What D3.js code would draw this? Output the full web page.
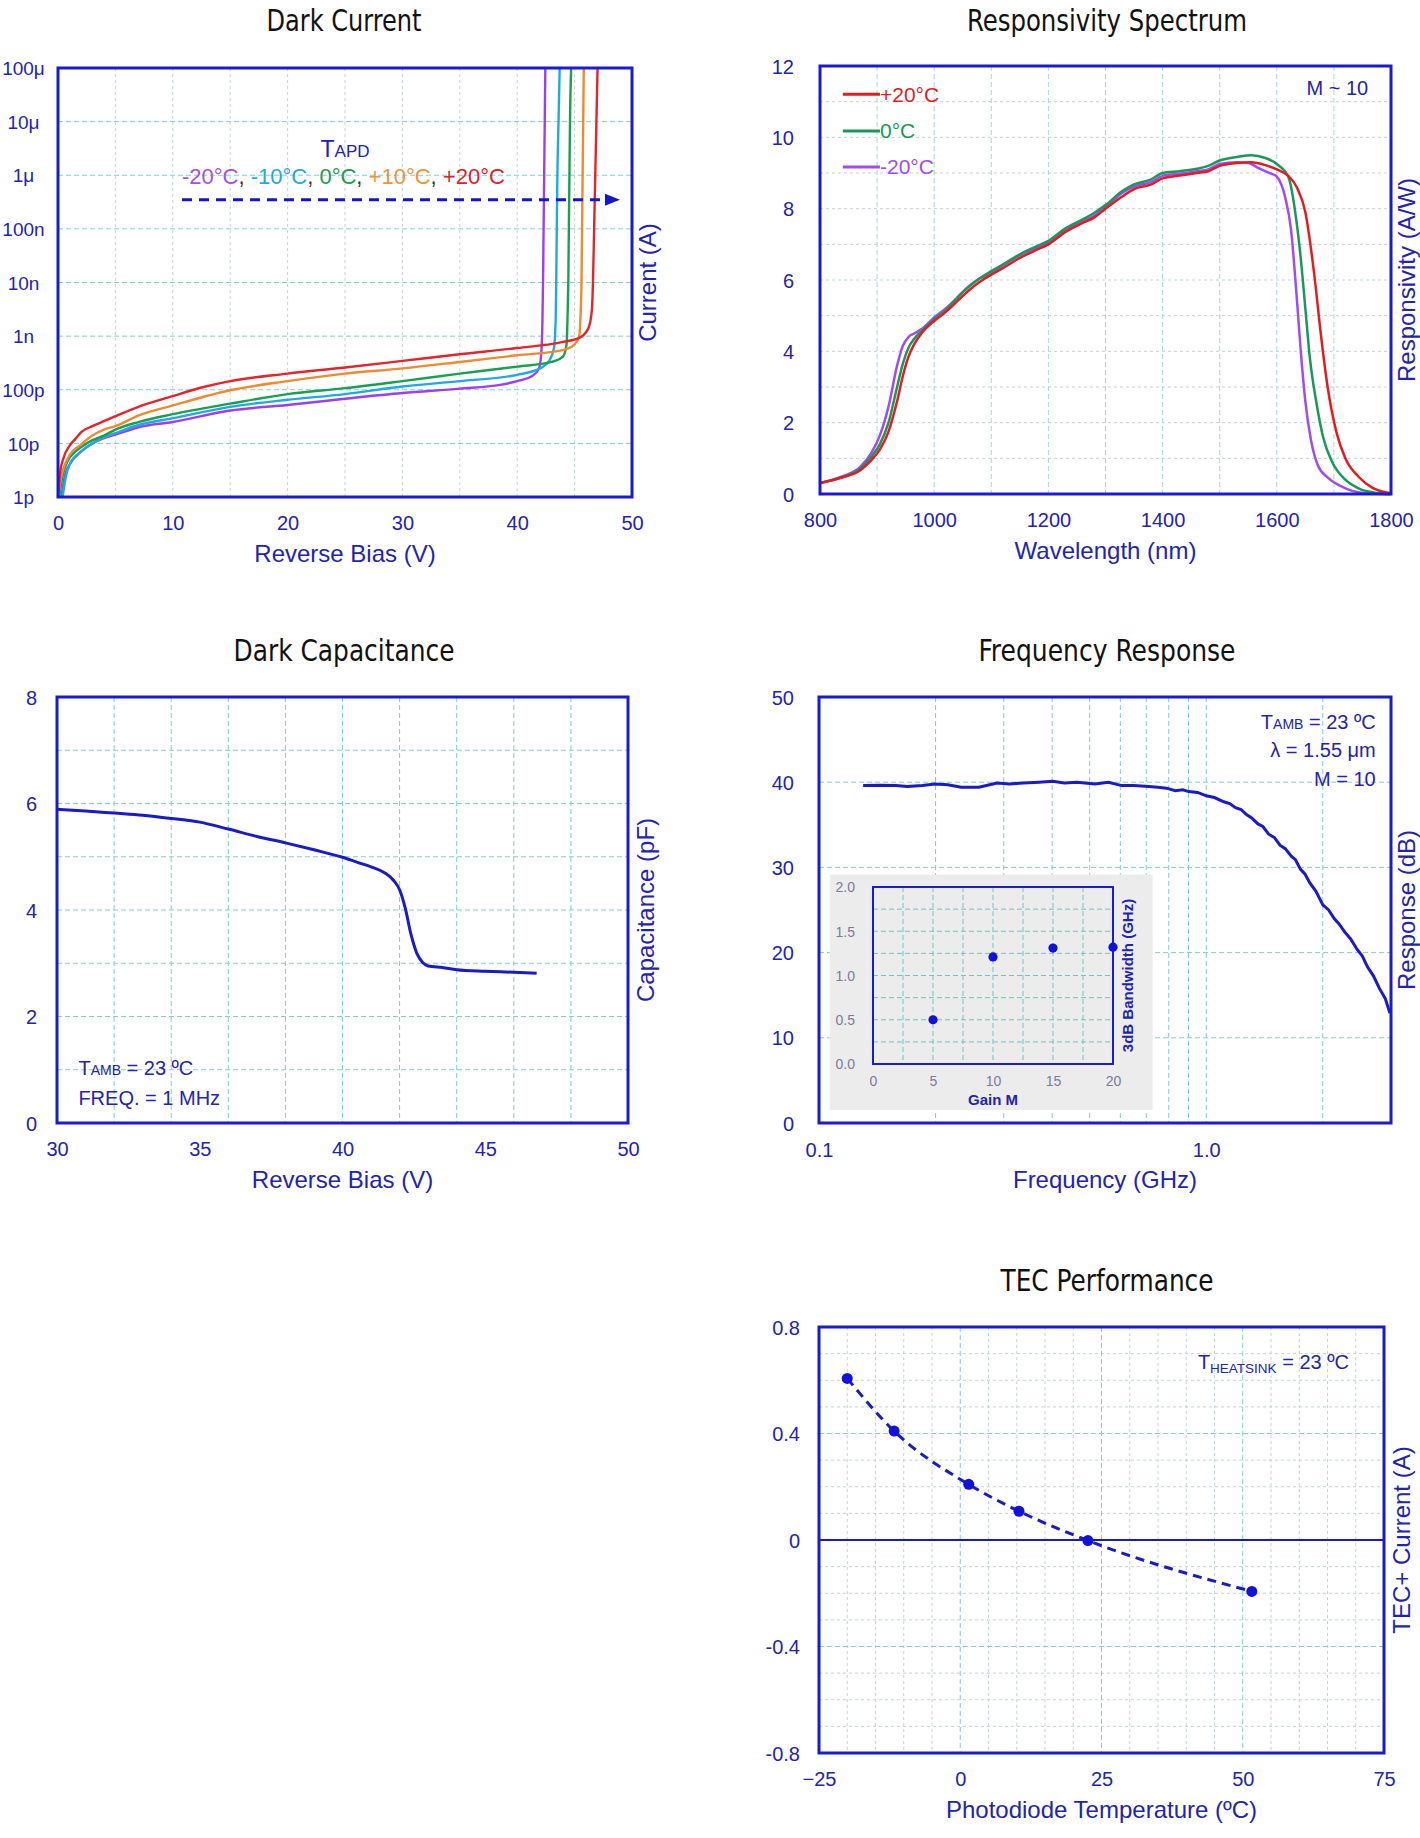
<!DOCTYPE html>
<html><head><meta charset="utf-8">
<script src="https://cdnjs.cloudflare.com/ajax/libs/d3/7.8.5/d3.min.js"></script>
<style>
body{margin:0;background:#fff;}
svg text{font-family:"Liberation Sans",Arial,Helvetica,sans-serif;}
</style></head><body>
<script>
// ---------------- DATA ----------------
// Dark Current (V, A)
const dcTempLabels = ["-20°C","-10°C","0°C","+10°C","+20°C"];
const dcV_m20 = [0.3,0.6,1,2,3,4,5,7,10,15,20,25,30,35,38.5,40,41.3,41.9,42.1,42.2,42.25,42.3,42.35,42.4,42.45];
const dcI_m20 = [1e-12,2.5e-12,4e-12,7e-12,1.0e-11,1.25e-11,1.45e-11,2.0e-11,2.5e-11,4.1e-11,5.2e-11,6.8e-11,8.7e-11,1.05e-10,1.23e-10,1.45e-10,1.8e-10,2.5e-10,5e-10,2e-9,1e-8,1e-7,1e-6,1e-5,1e-4];
const dcV_m10 = [0.4,0.7,1,2,3,4,5,7,10,15,20,25,30,35,40,42,42.8,43.2,43.35,43.4,43.45,43.5,43.6,43.7];
const dcI_m10 = [1e-12,2.5e-12,4e-12,7e-12,1.0e-11,1.3e-11,1.55e-11,2.2e-11,2.95e-11,4.8e-11,6.5e-11,8.3e-11,1.15e-10,1.45e-10,1.9e-10,2.5e-10,3.5e-10,6e-10,2e-9,1e-8,1e-7,1e-6,1e-5,1e-4];
const dcV_0 = [0.1,0.4,0.8,1.5,2,3,4,5,7,10,15,20,25,30,35,40,43,44,44.3,44.4,44.45,44.5,44.55,44.6,44.7];
const dcI_0 = [1e-12,2.5e-12,4.5e-12,7e-12,8.5e-12,1.15e-11,1.4e-11,1.8e-11,2.5e-11,3.5e-11,5.5e-11,8.3e-11,1.07e-10,1.45e-10,2.0e-10,2.7e-10,3.3e-10,4.2e-10,7e-10,3e-9,1e-8,1e-7,1e-6,1e-5,1e-4];
const dcV_p10 = [0,0.3,0.6,1,2,3,4,5,7,10,15,20,25,30,35,40,44,45,45.4,45.5,45.6,45.65,45.7,45.75,45.8];
const dcI_p10 = [1e-12,2.5e-12,4e-12,6e-12,9.5e-12,1.4e-11,1.8e-11,2.1e-11,3.3e-11,5.1e-11,9.8e-11,1.45e-10,2.0e-10,2.5e-10,3.3e-10,4.4e-10,5.5e-10,7e-10,1.0e-9,2e-9,1e-8,1e-7,1e-6,1e-5,1e-4];
const dcV_p20 = [0,0.2,0.5,1,1.5,2,3,4,5,7,10,12.5,15,20,25,30,35,40,44,45.5,46.2,46.5,46.6,46.7,46.8,46.9,47.0];
const dcI_p20 = [1e-12,3e-12,5.5e-12,9e-12,1.2e-11,1.6e-11,2.1e-11,2.6e-11,3.2e-11,4.8e-11,7.6e-11,1.1e-10,1.45e-10,2.0e-10,2.6e-10,3.45e-10,4.6e-10,6.0e-10,7.8e-10,9.5e-10,1.4e-9,3e-9,1e-8,1e-7,1e-6,1e-5,1e-4];
const dcYTickValues = [1e-12,1e-11,1e-10,1e-9,1e-8,1e-7,1e-6,1e-5,1e-4];
const dcYTickLabels = ["1p","10p","100p","1n","10n","100n","1μ","10μ","100μ"];
const dcXTicks = [0,10,20,30,40,50];

// Responsivity (nm, A/W)
const respLegend = ["+20°C","0°C","-20°C"];
const respWl_p20 = [800,840,870,890,905,920,935,945,955,965,980,1000,1020,1040,1060,1080,1100,1120,1150,1180,1200,1230,1260,1280,1300,1330,1350,1380,1400,1430,1460,1480,1500,1530,1555,1580,1600,1620,1635,1650,1666,1677,1689,1705,1720,1744,1767,1790,1800];
const respVal_p20 = [0.31,0.47,0.66,0.95,1.25,1.75,2.6,3.3,3.85,4.2,4.55,4.85,5.1,5.4,5.7,5.95,6.15,6.33,6.62,6.85,7.0,7.35,7.6,7.75,8.0,8.35,8.55,8.68,8.85,8.93,9.0,9.05,9.2,9.28,9.3,9.22,9.1,8.92,8.6,7.9,6.1,4.5,3.0,1.7,1.0,0.47,0.18,0.05,0.02];
const respWl_0 = [800,840,870,890,905,920,935,945,955,965,980,1000,1020,1040,1060,1080,1100,1120,1150,1180,1200,1230,1260,1280,1300,1330,1350,1380,1400,1430,1460,1480,1500,1530,1555,1580,1600,1620,1634,1642,1650,1658,1670,1681,1697,1720,1744,1775,1800];
const respVal_0 = [0.31,0.48,0.7,1.05,1.4,2.0,3.0,3.65,4.1,4.35,4.6,4.9,5.15,5.5,5.8,6.05,6.25,6.43,6.72,6.95,7.1,7.45,7.7,7.88,8.1,8.5,8.68,8.82,9.0,9.05,9.12,9.2,9.35,9.45,9.5,9.42,9.25,8.9,7.7,6.6,5.2,3.8,2.5,1.6,0.9,0.4,0.15,0.03,0.0];
const respWl_m20 = [800,840,870,890,905,920,935,945,955,965,980,1000,1020,1040,1060,1080,1100,1120,1150,1180,1200,1230,1260,1280,1300,1330,1350,1380,1400,1430,1460,1480,1500,1530,1550,1570,1590,1600,1615,1625,1635,1642,1650,1660,1672,1690,1720,1745,1770,1800];
const respVal_m20 = [0.31,0.5,0.75,1.15,1.65,2.45,3.6,4.15,4.4,4.5,4.65,4.95,5.2,5.5,5.82,6.05,6.2,6.4,6.7,6.9,7.05,7.4,7.65,7.8,8.05,8.45,8.62,8.75,8.92,8.98,9.05,9.1,9.25,9.3,9.28,9.12,8.98,8.9,8.3,7.4,5.5,4.0,2.6,1.5,0.8,0.45,0.16,0.04,0.005,0.0];
const respXTicks = [800,1000,1200,1400,1600,1800];
const respYTicks = [0,2,4,6,8,10,12];

// Dark Capacitance (V, pF)
const capV = [30,31,32,33,34,35,36,37,38,39,40,40.5,41,41.5,41.8,42.0,42.2,42.4,42.6,42.8,43.0,43.5,44,45,46,46.8];
const capC = [5.89,5.86,5.82,5.78,5.72,5.65,5.52,5.38,5.26,5.13,4.99,4.9,4.81,4.69,4.55,4.38,4.03,3.54,3.19,3.02,2.95,2.92,2.88,2.85,2.83,2.81];
const capXTicks = [30,35,40,45,50];
const capYTicks = [0,2,4,6,8];

// Frequency Response (GHz, dB)
const freqF = [0.130,0.144,0.158,0.169,0.185,0.199,0.215,0.233,0.259,0.288,0.31,0.337,0.37,0.401,0.43,0.464,0.516,0.559,0.605,0.65,0.71,0.75,0.789,0.832,0.87,0.901,0.95,1.0,1.05,1.11,1.15,1.19,1.23,1.27,1.31,1.36,1.4,1.45,1.5,1.55,1.6,1.66,1.7,1.75,1.8,1.85,1.92,2.0,2.07,2.14,2.2,2.28,2.36,2.45,2.53,2.61,2.7,2.8,2.9,2.98];
const freqDB = [39.6,39.65,39.6,39.5,39.6,39.8,39.7,39.4,39.4,39.9,39.8,39.9,40.0,40.1,39.9,40.0,39.8,40.0,39.6,39.6,39.5,39.4,39.3,39.0,39.1,38.9,38.8,38.4,38.2,37.7,37.5,37.0,36.8,36.2,35.8,35.1,34.8,33.9,33.5,32.6,32.2,31.3,30.9,29.8,29.2,28.2,27.2,25.6,25.0,24.0,23.4,22.4,21.6,20.4,19.6,18.3,17.3,15.8,14.6,12.9];
const freqYTicks = [0,10,20,30,40,50];
const freqXTicks = [0.1,1.0];
const freqXLabels = ["0.1","1.0"];
const freqXGrid = [0.2,0.3,0.4,0.5,0.6,0.7,0.8,0.9,1.0,2.0];
// inset: 3dB bandwidth vs gain
const insetGain = [5,10,15,20];
const insetBW = [0.5,1.21,1.31,1.32];
const insetXTicks = [0,5,10,15,20];
const insetYTicks = [0,0.5,1.0,1.5,2.0];

// TEC Performance (ºC, A)
const tecTemp = [-20,-11.7,1.5,10.4,22.6,51.6];
const tecCurrent = [0.607,0.409,0.209,0.108,-0.002,-0.193];
const tecXTicks = [-25,0,25,50,75];
const tecYTicks = [-0.8,-0.4,0,0.4,0.8];
const tecYLabels = ["-0.8","-0.4","0","0.4","0.8"];

// ---------------- STYLE ----------------
const FRAME = "#1a1ad4";
const TXT = "#2323b2";
const GRID_MAJOR = {stroke:"#86cbcd", dash:"5,3"};
const GRID_MINOR = {stroke:"#c3d3d7", dash:"3,3"};
const TITLE_FONT = '"Liberation Sans Narrow","DejaVu Sans Condensed","Liberation Sans",sans-serif';

const svg = d3.select("body").append("svg")
  .attr("width",1420).attr("height",1838)
  .style("background","#fff");

function gridX(g, xs, ys, vals, st){
  const [yb,yt] = ys.range();
  g.selectAll(null).data(vals).join("line")
    .attr("x1",d=>xs(d)).attr("x2",d=>xs(d)).attr("y1",yt).attr("y2",yb)
    .attr("stroke",st.stroke).attr("stroke-dasharray",st.dash).attr("stroke-width",1);
}
function gridY(g, xs, ys, vals, st){
  const [x0,x1] = xs.range();
  g.selectAll(null).data(vals).join("line")
    .attr("y1",d=>ys(d)).attr("y2",d=>ys(d)).attr("x1",x0).attr("x2",x1)
    .attr("stroke",st.stroke).attr("stroke-dasharray",st.dash).attr("stroke-width",1);
}
function frame(g, xs, ys, w){
  const [x0,x1] = xs.range(); const [yb,yt] = ys.range();
  g.append("rect").attr("x",x0).attr("y",yt).attr("width",x1-x0).attr("height",yb-yt)
    .attr("fill","none").attr("stroke",FRAME).attr("stroke-width",w||3);
}
function styleAxis(g, size, color){
  g.select(".domain").remove();
  g.attr("font-family",null);
  g.selectAll("text").attr("font-size",size).attr("fill",color||TXT);
}
function leftAxis(g, xs, ys, vals, fmt, pad, size){
  const ax = d3.axisLeft(ys).tickValues(vals).tickSize(0).tickPadding(pad);
  if (fmt) ax.tickFormat(fmt);
  const a = g.append("g").attr("transform",`translate(${xs.range()[0]},0)`).call(ax);
  styleAxis(a, size||20);
  a.selectAll("text").attr("dy","0.35em");
  return a;
}
function bottomAxis(g, xs, ys, vals, fmt, off, size){
  const ax = d3.axisBottom(xs).tickValues(vals).tickSize(0);
  if (fmt) ax.tickFormat(fmt);
  const a = g.append("g").attr("transform",`translate(0,${ys.range()[0]})`).call(ax);
  styleAxis(a, size||20);
  a.selectAll("text").attr("y",off).attr("dy","0.35em");
  return a;
}
function title(txt, cx, base, len){
  svg.append("text").attr("x",cx).attr("y",base).attr("text-anchor","middle")
    .attr("font-size",30).style("font-family",TITLE_FONT).attr("fill","#111")
    .attr("textLength",len).attr("lengthAdjust","spacingAndGlyphs").text(txt);
}
function bottomTitle(txt, xs, ys){
  const [x0,x1] = xs.range();
  svg.append("text").attr("x",(x0+x1)/2).attr("y",ys.range()[0]+65)
    .attr("text-anchor","middle").attr("font-size",24).attr("fill",TXT).text(txt);
}
function rightTitle(txt, xs, ys, off){
  const [yb,yt] = ys.range();
  svg.append("text").attr("transform",`translate(${xs.range()[1]+(off||24)},${(yb+yt)/2}) rotate(-90)`)
    .attr("text-anchor","middle").attr("font-size",24).attr("fill",TXT).text(txt);
}

// ---------------- DARK CURRENT ----------------
{
  const xs = d3.scaleLinear([0,50],[58,632]);
  const ys = d3.scaleLog([1e-12,1e-4],[497,68]);
  const g = svg.append("g");
  gridX(g, xs, ys, d3.range(5,50,5), GRID_MINOR);
  gridY(g, xs, ys, dcYTickValues.slice(1,-1), GRID_MAJOR);
  const colors = ["#9d3ff0","#1ea9e4","#18a052","#ee8b32","#e6232b"];
  const series = [[dcV_m20,dcI_m20],[dcV_m10,dcI_m10],[dcV_0,dcI_0],[dcV_p10,dcI_p10],[dcV_p20,dcI_p20]];
  const line = d3.line().x(d=>xs(d[0])).y(d=>ys(d[1])).curve(d3.curveMonotoneX);
  series.forEach((s,i)=>{
    g.append("path").attr("d",line(d3.zip(s[0],s[1]))).attr("fill","none")
      .attr("stroke",colors[i]).attr("stroke-width",2.4);
  });
  // annotation
  const tx = svg.append("text").attr("x",xs(25.0)).attr("y",ys(2.2e-6)).attr("text-anchor","middle").attr("fill","#2020c0");
  tx.append("tspan").attr("font-size",23).text("T");
  tx.append("tspan").attr("font-size",17).text("APD");
  const ct = svg.append("text").attr("x",xs(10.8)).attr("y",ys(6.9e-7)).attr("font-size",22);
  const cols = ["#a44ef0","#24a8e0","#1f9a50","#f0923a","#e0202a"];
  dcTempLabels.forEach((t,i)=>{
    ct.append("tspan").attr("fill",cols[i]).text(t);
    if (i<dcTempLabels.length-1) ct.append("tspan").attr("fill","#333").text(", ");
  });
  const ay = ys(3.5e-7);
  svg.append("line").attr("x1",xs(10.8)).attr("x2",xs(47.8)).attr("y1",ay).attr("y2",ay)
    .attr("stroke","#1515d0").attr("stroke-width",3).attr("stroke-dasharray","10,7");
  const tip = xs(48.95);
  svg.append("path").attr("d",`M${tip},${ay} L${tip-15},${ay-6} L${tip-15},${ay+6} Z`).attr("fill","#1515d0");
  frame(g, xs, ys);
  const la = leftAxis(g, xs, ys, dcYTickValues, (d,i)=>dcYTickLabels[i], 0, 19);
  la.selectAll("text").attr("text-anchor","middle").attr("x",-34.5);
  bottomAxis(g, xs, ys, dcXTicks, d3.format("d"), 26);
  title("Dark Current", 344, 31, 155);
  bottomTitle("Reverse Bias (V)", xs, ys);
  rightTitle("Current (A)", xs, ys, 24);
}

// ---------------- RESPONSIVITY ----------------
{
  const xs = d3.scaleLinear([800,1800],[820,1391]);
  const ys = d3.scaleLinear([0,12],[494,66]);
  const g = svg.append("g");
  gridY(g, xs, ys, d3.range(1,12,1), GRID_MINOR);
  gridX(g, xs, ys, d3.range(900,1800,100), {stroke:"#a9d6dc", dash:"5,3"});
  const colors = ["#e31c22","#17995a","#a04cf2"];
  const series = [[respWl_p20,respVal_p20],[respWl_0,respVal_0],[respWl_m20,respVal_m20]];
  const line = d3.line().x(d=>xs(d[0])).y(d=>ys(d[1])).curve(d3.curveMonotoneX);
  [2,1,0].forEach(i=>{
    g.append("path").attr("d",line(d3.zip(series[i][0],series[i][1]))).attr("fill","none")
      .attr("stroke",colors[i]).attr("stroke-width",2.5);
  });
  // legend
  const legY = [ys(11.21), ys(10.18), ys(9.17)];
  respLegend.forEach((t,i)=>{
    svg.append("line").attr("x1",xs(840)).attr("x2",xs(905)).attr("y1",legY[i]).attr("y2",legY[i])
      .attr("stroke",colors[i]).attr("stroke-width",3);
    svg.append("text").attr("x",xs(905)).attr("y",legY[i]).attr("dy","0.36em").attr("font-size",21)
      .attr("fill",colors[i]).text(t);
  });
  svg.append("text").attr("x",xs(1760)).attr("y",ys(11.2)).attr("text-anchor","end")
    .attr("font-size",20).attr("fill",TXT).text("M ~ 10");
  frame(g, xs, ys);
  leftAxis(g, xs, ys, respYTicks, d3.format("d"), 26);
  bottomAxis(g, xs, ys, respXTicks, d3.format("d"), 26);
  title("Responsivity Spectrum", 1107, 31, 280);
  bottomTitle("Wavelength (nm)", xs, ys);
  rightTitle("Responsivity (A/W)", xs, ys, 24);
}

// ---------------- DARK CAPACITANCE ----------------
{
  const xs = d3.scaleLinear([30,50],[57,628]);
  const ys = d3.scaleLinear([0,8],[1123,697]);
  const g = svg.append("g");
  gridX(g, xs, ys, d3.range(32,50,2), GRID_MAJOR);
  gridY(g, xs, ys, d3.range(1,8,1), GRID_MAJOR);
  const line = d3.line().x(d=>xs(d[0])).y(d=>ys(d[1])).curve(d3.curveMonotoneX);
  g.append("path").attr("d",line(d3.zip(capV,capC))).attr("fill","none")
    .attr("stroke","#1a1ac8").attr("stroke-width",3);
  const t1 = svg.append("text").attr("x",xs(30.75)).attr("y",ys(0.9)).attr("fill",TXT).attr("font-size",20);
  t1.append("tspan").text("T"); t1.append("tspan").attr("font-size",14).text("AMB");
  t1.append("tspan").text(" = 23 ºC");
  svg.append("text").attr("x",xs(30.75)).attr("y",ys(0.33)).attr("fill",TXT).attr("font-size",20).text("FREQ. = 1 MHz");
  frame(g, xs, ys);
  leftAxis(g, xs, ys, capYTicks, d3.format("d"), 20);
  bottomAxis(g, xs, ys, capXTicks, d3.format("d"), 26);
  title("Dark Capacitance", 344, 661, 221);
  bottomTitle("Reverse Bias (V)", xs, ys);
  rightTitle("Capacitance (pF)", xs, ys, 26);
}

// ---------------- FREQUENCY RESPONSE ----------------
{
  const xs = d3.scaleLog([0.1,3.0],[819,1391]);
  const ys = d3.scaleLinear([0,50],[1123,697]);
  const g = svg.append("g");
  gridX(g, xs, ys, freqXGrid, GRID_MAJOR);
  gridY(g, xs, ys, [10,20,30,40], GRID_MAJOR);
  // inset
  const ix = d3.scaleLinear([0,20],[873,1113]);
  const iy = d3.scaleLinear([0,2],[1064,887]);
  g.append("rect").attr("x",ix(-3.6)).attr("y",iy(2.14)).attr("width",ix(23.3)-ix(-3.6)).attr("height",iy(-0.52)-iy(2.14))
    .attr("fill","#ececec");
  const line = d3.line().x(d=>xs(d[0])).y(d=>ys(d[1])).curve(d3.curveLinear);
  g.append("path").attr("d",line(d3.zip(freqF,freqDB))).attr("fill","none")
    .attr("stroke","#1a1ac8").attr("stroke-width",3);
  const ig = svg.append("g");
  gridX(ig, ix, iy, d3.range(2.5,20,2.5), {stroke:"#6fc2c6", dash:"5,3"});
  gridY(ig, ix, iy, d3.range(0.25,2,0.25), {stroke:"#6fc2c6", dash:"5,3"});
  frame(ig, ix, iy, 2);
  ig.selectAll(null).data(d3.zip(insetGain,insetBW)).join("circle")
    .attr("cx",d=>ix(d[0])).attr("cy",d=>iy(d[1])).attr("r",4.6).attr("fill","#1010e0");
  const ila = leftAxis(ig, ix, iy, insetYTicks, d3.format(".1f"), 18, 14);
  ila.selectAll("text").attr("fill","#7a7a9c");
  const iba = bottomAxis(ig, ix, iy, insetXTicks, d3.format("d"), 17, 14);
  iba.selectAll("text").attr("fill","#7a7a9c");
  svg.append("text").attr("x",(ix(0)+ix(20))/2).attr("y",iy(0)+41).attr("text-anchor","middle")
    .attr("font-size",15).attr("font-weight","bold").attr("fill",TXT).text("Gain M");
  svg.append("text").attr("transform",`translate(${ix(20)+20},${(iy(0)+iy(2))/2}) rotate(-90)`)
    .attr("text-anchor","middle").attr("font-size",15).attr("font-weight","bold").attr("fill",TXT).text("3dB Bandwidth (GHz)");
  // annotation
  const ax = xs(2.74);
  const a1 = svg.append("text").attr("x",ax).attr("y",ys(46.3)).attr("text-anchor","end").attr("fill",TXT).attr("font-size",20);
  a1.append("tspan").text("T"); a1.append("tspan").attr("font-size",14).text("AMB"); a1.append("tspan").text(" = 23 ºC");
  svg.append("text").attr("x",ax).attr("y",ys(43.0)).attr("text-anchor","end").attr("fill",TXT).attr("font-size",20).text("λ = 1.55 μm");
  svg.append("text").attr("x",ax).attr("y",ys(39.6)).attr("text-anchor","end").attr("fill",TXT).attr("font-size",20).text("M = 10");
  frame(g, xs, ys);
  leftAxis(g, xs, ys, freqYTicks, d3.format("d"), 25);
  bottomAxis(g, xs, ys, freqXTicks, (d,i)=>freqXLabels[i], 27);
  title("Frequency Response", 1107, 661, 257);
  bottomTitle("Frequency (GHz)", xs, ys);
  rightTitle("Response (dB)", xs, ys, 24);
}

// ---------------- TEC PERFORMANCE ----------------
{
  const xs = d3.scaleLinear([-25,75],[819,1384]);
  const ys = d3.scaleLinear([-0.8,0.8],[1753,1327]);
  const g = svg.append("g");
  gridX(g, xs, ys, d3.range(-20,75,5).filter(v=>v%25!==0), GRID_MINOR);
  gridY(g, xs, ys, d3.range(-7,8,1).map(v=>v/10).filter(v=>Math.abs(v)>1e-9 && Math.abs(Math.abs(v)-0.4)>1e-9), GRID_MINOR);
  gridX(g, xs, ys, [0,25,50], GRID_MAJOR);
  gridY(g, xs, ys, [-0.4,0.4], GRID_MAJOR);
  g.append("line").attr("x1",xs(-25)).attr("x2",xs(75)).attr("y1",ys(0)).attr("y2",ys(0))
    .attr("stroke","#1a1ab8").attr("stroke-width",2);
  const line = d3.line().x(d=>xs(d[0])).y(d=>ys(d[1])).curve(d3.curveMonotoneX);
  g.append("path").attr("d",line(d3.zip(tecTemp,tecCurrent))).attr("fill","none")
    .attr("stroke","#1a1ac8").attr("stroke-width",3).attr("stroke-dasharray","9,6");
  g.selectAll(null).data(d3.zip(tecTemp,tecCurrent)).join("circle")
    .attr("cx",d=>xs(d[0])).attr("cy",d=>ys(d[1])).attr("r",5.5).attr("fill","#1010e0");
  const a = svg.append("text").attr("x",xs(68.8)).attr("y",ys(0.643)).attr("text-anchor","end").attr("fill",TXT).attr("font-size",20);
  a.append("tspan").text("T");
  a.append("tspan").attr("font-size",13.5).attr("dy",4).text("HEATSINK");
  a.append("tspan").attr("dy",-4).text(" = 23 ºC");
  frame(g, xs, ys);
  leftAxis(g, xs, ys, tecYTicks, (d,i)=>tecYLabels[i], 19);
  bottomAxis(g, xs, ys, tecXTicks, d3.format("d"), 26);
  title("TEC Performance", 1107, 1291, 213);
  bottomTitle("Photodiode Temperature (ºC)", xs, ys);
  rightTitle("TEC+ Current (A)", xs, ys, 26);
}
</script></body></html>
